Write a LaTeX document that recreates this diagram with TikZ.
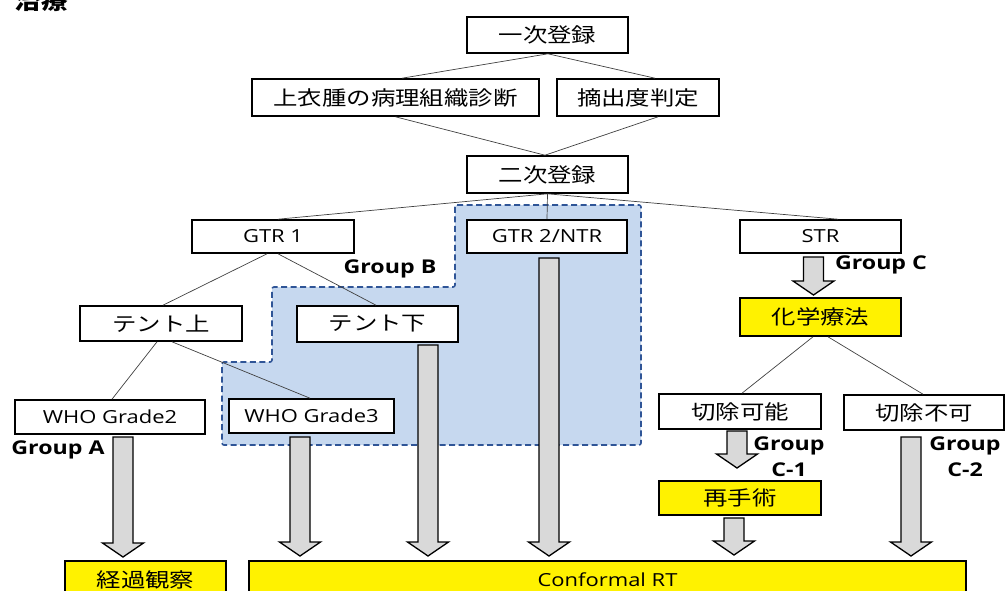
\documentclass[tikz,border=0pt]{standalone}
\usepackage{fontspec}
\setmainfont[FakeStretch=1.22]{Open Sans}
\newfontfamily\cjk[FakeStretch=1.22]{Noto Sans CJK JP}
\usetikzlibrary{calc}
\definecolor{grpfill}{HTML}{C6D8EF}
\definecolor{grpline}{HTML}{2F5597}
\definecolor{arrfill}{HTML}{D9D9D9}
\definecolor{conn}{HTML}{404040}
\tikzset{
  bx/.style={draw=black, line width=1.6pt, fill=white, inner sep=0pt, font=\fontsize{18}{22}\selectfont},
  jbx/.style={bx, font=\cjk\fontsize{20}{24}\selectfont},
  ybx/.style={jbx, fill=yellow},
  grp/.style={font=\bfseries\fontsize{19}{26}\selectfont, inner sep=0pt, align=center},
  cn/.style={draw=conn, line width=0.7pt},
  blk/.style={draw=black, line width=1.3pt, fill=arrfill, line join=miter},
}
\newcommand\barrow[3]{% center x, top y, tip y
  \draw[blk] (#1-10,#2) -- (#1+10,#2) -- (#1+10,#3-14) -- (#1+20.5,#3-14) -- (#1,#3)
    -- (#1-20.5,#3-14) -- (#1-10,#3-14) -- cycle;}
\begin{document}
\begin{tikzpicture}[x=1pt,y=-1pt]
\useasboundingbox (0,0) rectangle (1005,590);
\clip (0,0) rectangle (1005,590);
% title
\node[anchor=base west, inner sep=0pt, font=\cjk\bfseries\fontsize{22}{24}\selectfont] (title) at (14,9) {治療};
% group B region
\fill[grpfill, rounded corners=2pt] (455,205) -- (641,205) -- (641,445) -- (222,445) -- (222,362) -- (272,362) -- (272,287) -- (455,287) -- cycle;
\draw[grpline, line width=1.6pt, dash pattern=on 6pt off 3.5pt, rounded corners=2pt] (455,205) -- (641,205) -- (641,445) -- (222,445) -- (222,362) -- (272,362) -- (272,287) -- (455,287) -- cycle;
% boxes
\node[jbx, minimum width=161, minimum height=36] (p1) at (547.5,35) {一次登録};
\node[jbx, minimum width=287, minimum height=37] (diag) at (395.5,97.5) {上衣腫の病理組織診断};
\node[jbx, minimum width=162, minimum height=37] (ext) at (638,97.5) {摘出度判定};
\node[jbx, minimum width=161, minimum height=37] (p2) at (547.5,174.5) {二次登録};
\node[bx, minimum width=162, minimum height=33] (gtr1) at (273,236.5) {GTR 1};
\node[bx, minimum width=160, minimum height=33] (gtr2) at (547,236.5) {GTR 2/NTR};
\node[bx, minimum width=161, minimum height=33] (str) at (820.5,236.5) {STR};
\node[jbx, minimum width=162, minimum height=35] (tup) at (161,323.5) {テント上};
\node[jbx, minimum width=161, minimum height=36] (tdown) at (377.5,324) {テント下};
\node[bx, minimum width=190, minimum height=34] (who2) at (110,417) {WHO Grade2};
\node[bx, minimum width=165, minimum height=34] (who3) at (311.5,416) {WHO Grade3};
\node[ybx, minimum width=161, minimum height=38] (chemo) at (820.5,317) {化学療法};
\node[jbx, minimum width=162, minimum height=35] (resec) at (740,411.5) {切除可能};
\node[jbx, minimum width=160, minimum height=35] (unres) at (924,412.5) {切除不可};
\node[ybx, minimum width=162, minimum height=34] (reop) at (740,498) {再手術};
\node[ybx, minimum width=161, minimum height=37] (obs) at (145.5,579.5) {経過観察};
\node[bx, fill=yellow, minimum width=717, minimum height=37] (conf) at (607.5,579.5) {Conformal RT};
% connectors
\begin{scope}[on background layer/.style={}]
\end{scope}
\draw[cn] ([xshift=0.5]p1.south) -- ([xshift=6.5]diag.north);
\draw[cn] ([xshift=0.5]p1.south) -- ([xshift=17]ext.north);
\draw[cn] (diag.south) -- ([xshift=-2.5]p2.north);
\draw[cn] ([xshift=20]ext.south) -- ([xshift=-2.5]p2.north);
\draw[cn] (p2.south) -- ([xshift=5]gtr1.north);
\draw[cn] (p2.south) -- (gtr2.north);
\draw[cn] (p2.south) -- ([xshift=17.5]str.north);
\draw[cn] ([xshift=-6]gtr1.south) -- ([xshift=2]tup.north);
\draw[cn] ([xshift=5]gtr1.south) -- ([xshift=-1.5]tdown.north);
\draw[cn] ([xshift=-4]tup.south) -- ([xshift=2]who2.north);
\draw[cn] ([xshift=11]tup.south) -- ([xshift=-1.5]who3.north);
\draw[cn] ([xshift=-7.5]chemo.south) -- ([xshift=2]resec.north);
\draw[cn] ([xshift=7.5]chemo.south) -- ([xshift=-1]unres.north);
% block arrows
\barrow{123}{437}{557}
\barrow{300}{437}{556}
\barrow{428}{345}{556}
\barrow{549}{258}{556}
\barrow{813.5}{257}{295}
\barrow{737}{431}{468}
\barrow{734}{518}{555}
\barrow{911}{437}{556}
% group labels
\node[grp] (ga) at (58,450) {Group A};
\node[grp] (gb) at (390,269) {Group B};
\node[grp] (gc) at (881,265) {Group C};
\node[grp] (gc1) at (789,457) {Group\\C-1};
\node[grp] (gc2) at (965,457) {Group\\C-2};
\end{tikzpicture}
\end{document}
